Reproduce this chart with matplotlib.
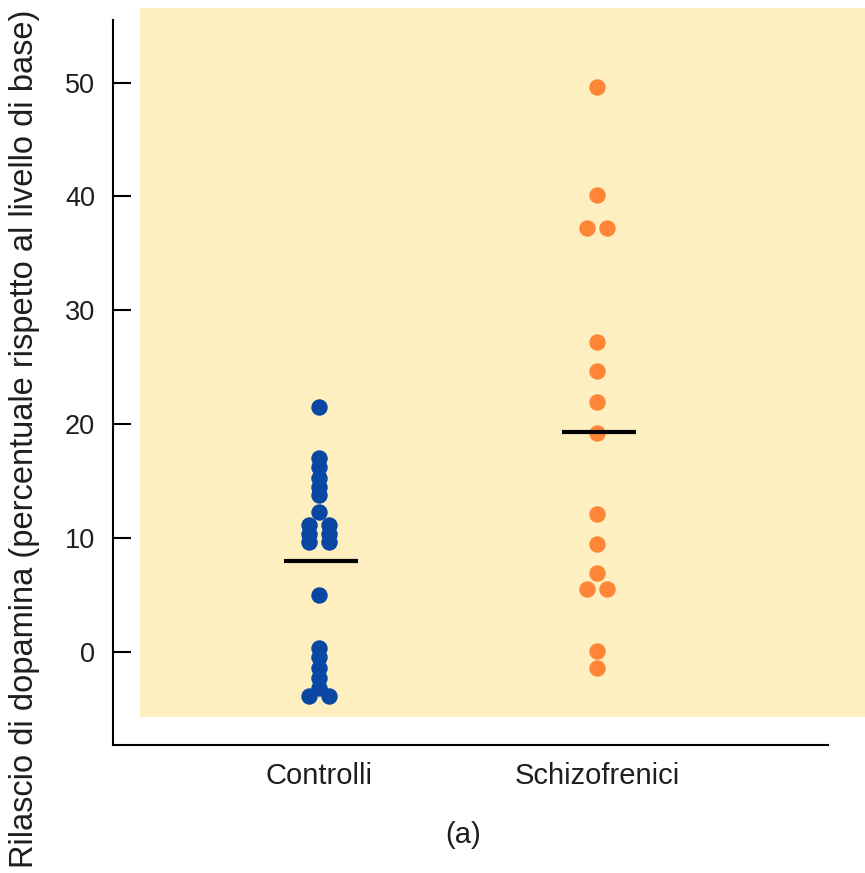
import matplotlib
matplotlib.use("Agg")
import matplotlib.pyplot as plt
from matplotlib.patches import Rectangle

plt.rcParams['font.family'] = ['Liberation Sans', 'DejaVu Sans']

categories = ["Controlli", "Schizofrenici"]
controlli = [21.5, 17.0, 16.2, 15.3, 14.5, 13.8, 12.3, 11.1, 11.1, 10.3, 10.3, 9.6, 9.6,
             5.0, 0.3, -0.5, -1.4, -2.3, -3.2, -3.9, -3.9]
controlli_side = [0, 0, 0, 0, 0, 0, 0, -1, 1, -1, 1, -1, 1,
                  0, 0, 0, 0, 0, 0, -1, 1]
schizo = [49.6, 40.1, 37.2, 37.2, 27.2, 24.7, 21.9, 19.2, 12.1, 9.5, 6.9, 5.5, 5.5, 0.1, -1.4]
schizo_side = [0, 0, -1, 1, 0, 0, 0, 0, 0, 0, 0, -1, 1, 0, 0]
means = [8.0, 19.3]
yticks = [0, 10, 20, 30, 40, 50]

blue = "#0a47a3"
orange = "#ff8636"
yellow = "#fdefc0"
textc = "#1e1e1e"

fig = plt.figure(figsize=(8.65, 8.73), dpi=100)
fig.patches.append(Rectangle((140/865, 1-717/873), 1-140/865, (717-8)/873,
                             transform=fig.transFigure, facecolor=yellow,
                             edgecolor='none', zorder=-1))
ax = fig.add_axes([113/865, 1-745/873, (828-113)/865, (745-20)/873])
ax.set_facecolor('none')
ax.set_zorder(1)

step = 0.036
ax.scatter([0 + s*step for s in controlli_side], controlli, s=140, color=blue,
           zorder=3, linewidths=0)
ax.scatter([1 + s*step for s in schizo_side], schizo, s=140, color=orange,
           zorder=3, linewidths=0)
for i, m in enumerate(means):
    ax.plot([i-0.125, i+0.14], [m, m], color='black', lw=3, zorder=4,
            solid_capstyle='butt')

ax.set_xlim(-0.741, 1.831)
ax.set_ylim(-8.2, 55.5)
ax.set_yticks(yticks)
ax.set_yticklabels([str(t) for t in yticks], fontsize=19.5, color=textc)
ax.set_xticks([0, 1])
ax.set_xticklabels(categories, fontsize=21, color=textc)
ax.tick_params(axis='y', direction='in', length=13, width=1.5, pad=13)
ax.tick_params(axis='x', length=0, pad=12)
for side in ['top', 'right']:
    ax.spines[side].set_visible(False)
for side in ['left', 'bottom']:
    ax.spines[side].set_linewidth(1.5)
ax.set_ylabel("Rilascio di dopamina (percentuale rispetto al livello di base)",
              fontsize=23.5, color=textc)
ax.yaxis.set_label_coords(-0.102, 0.422)
fig.text(463/865, 1-835/873, "(a)", ha='center', va='center', fontsize=21,
         color=textc)

fig.savefig("out.png", dpi=100)
